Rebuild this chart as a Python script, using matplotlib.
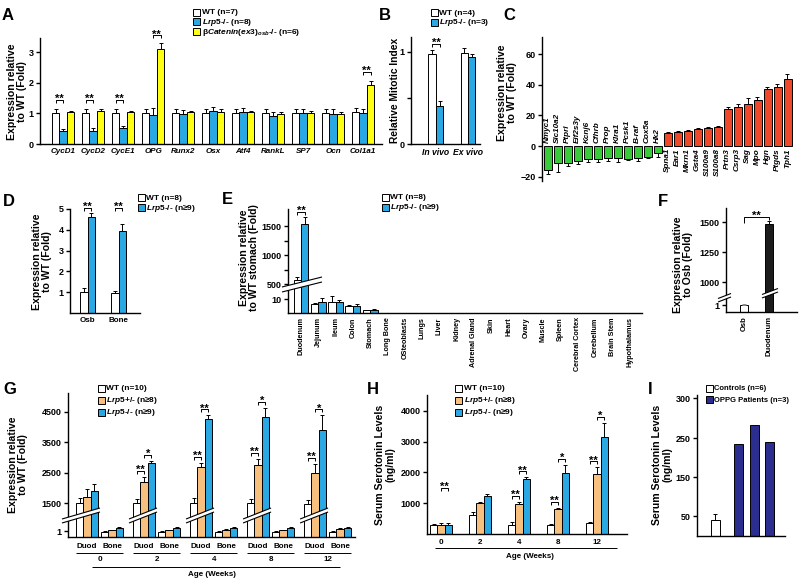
import numpy as np
import matplotlib
matplotlib.use('Agg')
import matplotlib.pyplot as plt
from matplotlib.patches import Rectangle, Polygon
from matplotlib.lines import Line2D

# ---------------- data ----------------
a_genes = ['CycD1', 'CycD2', 'CycE1', 'OPG', 'Runx2', 'Osx', 'Atf4', 'RankL', 'SP7', 'Ocn', 'Col1a1']
a_wt = [1.00, 1.00, 1.00, 1.00, 1.00, 1.00, 1.00, 1.00, 1.00, 1.00, 1.03]
a_wt_err = [0.15, 0.15, 0.15, 0.15, 0.15, 0.15, 0.15, 0.15, 0.15, 0.15, 0.13]
a_lrp5 = [0.43, 0.43, 0.52, 0.95, 0.97, 1.07, 1.05, 0.92, 1.02, 0.99, 1.02]
a_lrp5_err = [0.07, 0.09, 0.06, 0.21, 0.15, 0.13, 0.14, 0.14, 0.12, 0.14, 0.12]
a_bcat = [1.03, 1.07, 1.03, 3.10, 1.03, 1.06, 1.03, 0.97, 1.00, 0.97, 1.93]
a_bcat_err = [0.06, 0.08, 0.06, 0.19, 0.06, 0.07, 0.06, 0.06, 0.08, 0.06, 0.12]

b_cond = ['In vivo', 'Ex vivo']
b_wt = [0.98, 0.99]
b_wt_err = [0.04, 0.05]
b_lrp5 = [0.41, 0.95]
b_lrp5_err = [0.06, 0.03]

c_down_genes = ['Nmyc1', 'Slc10a2', 'Ptprl', 'Eif2s3y', 'Kcnj6', 'Cfhrb', 'Prop', 'Klra1',
                'Pcsk1', 'B-raf', 'Cox5a', 'Hk2']
c_down = [-15.4, -11.0, -11.0, -9.9, -8.4, -8.6, -8.0, -7.8, -8.4, -8.0, -7.0, -4.4]
c_down_err = [3.0, 6.0, 2.0, 2.0, 2.0, 1.5, 2.0, 2.5, 1.0, 1.5, 1.0, 2.5]
c_up_genes = ['Spna1', 'Ear1', 'Mkrn1', 'Gsta4', 'S100a9', 'S100a8', 'Prtn3', 'Csrp3', 'Sag',
              'Mpo', 'Hgn', 'Ptgds', 'Tph1']
c_up = [8.7, 9.1, 9.6, 10.9, 11.7, 12.4, 23.9, 25.7, 27.2, 30.0, 37.0, 38.6, 43.7]
c_up_err = [0.5, 0.5, 0.6, 0.6, 0.6, 0.6, 1.5, 1.5, 4.0, 2.0, 1.8, 1.8, 3.5]

d_tissue = ['Osb', 'Bone']
d_wt = [1.00, 0.97]
d_wt_err = [0.18, 0.07]
d_lrp5 = [4.63, 3.93]
d_lrp5_err = [0.17, 0.37]

e_tissue = ['Duodenum', 'Jejunum', 'Ileum', 'Colon', 'Stomach', 'Long Bone', 'OSteoblasts', 'Lungs',
            'Liver', 'Kidney', 'Adrenal Gland', 'Skin', 'Heart', 'Ovary', 'Muscle', 'Spleen',
            'Cerebral Cortex', 'Cerebellum', 'Brain Stem', 'Hypothalamus']
e_wt = [570, 6.4, 8.0, 5.0, 2.0, 0, 0, 0, 0, 0, 0, 0, 0, 0, 0, 0, 0, 0, 0, 0]
e_wt_err = [60, 0.5, 4.0, 0.8, 0.3, 0, 0, 0, 0, 0, 0, 0, 0, 0, 0, 0, 0, 0, 0, 0]
e_lrp5 = [1540, 8.0, 8.0, 5.0, 2.2, 0, 0, 0, 0, 0, 0, 0, 0, 0, 0, 0, 0, 0, 0, 0]
e_lrp5_err = [120, 2.5, 1.5, 1.5, 0.4, 0, 0, 0, 0, 0, 0, 0, 0, 0, 0, 0, 0, 0, 0, 0]

f_tissue = ['Osb', 'Duodenum']
f_val = [1.0, 1480]
f_err = [0.15, 30]

g_ages = [0, 2, 4, 8, 12]
g_duod_wt = [1510, 1500, 1500, 1510, 1480]
g_duod_wt_err = [140, 130, 150, 120, 110]
g_duod_het = [1700, 2190, 2680, 2750, 2500]
g_duod_het_err = [260, 160, 130, 200, 280]
g_duod_ko = [1890, 2800, 4250, 4320, 3880]
g_duod_ko_err = [230, 80, 130, 300, 500]
g_bone_wt = [0.9, 0.9, 0.9, 0.9, 0.9]
g_bone_wt_err = [0.08, 0.08, 0.08, 0.08, 0.08]
g_bone_het = [1.15, 1.15, 1.2, 1.15, 1.3]
g_bone_het_err = [0.1, 0.1, 0.1, 0.1, 0.25]
g_bone_ko = [1.45, 1.45, 1.5, 1.5, 1.5]
g_bone_ko_err = [0.2, 0.25, 0.15, 0.2, 0.25]

h_ages = [0, 2, 4, 8, 12]
h_wt = [290, 620, 290, 300, 360]
h_wt_err = [40, 100, 90, 30, 40]
h_het = [300, 1020, 980, 800, 1940]
h_het_err = [50, 30, 60, 60, 230]
h_ko = [300, 1240, 1790, 1980, 3150]
h_ko_err = [60, 60, 50, 260, 470]

i_ctrl = [40]
i_ctrl_err = [16]
i_pat = [236, 266, 241]

# ---------------- style ----------------
plt.rcParams.update({
    'font.family': ['Liberation Sans', 'DejaVu Sans'],
    'font.weight': 'bold',
    'font.size': 7,
    'mathtext.fontset': 'custom',
    'mathtext.rm': 'Liberation Sans:bold',
    'mathtext.it': 'Liberation Sans:italic:bold',
    'mathtext.bf': 'Liberation Sans:bold',
    'axes.linewidth': 1.0,
})
BLUE = '#2AA8E4'
ORANGE = '#F8C07E'
YELLOW = '#FFFF14'
GREEN = '#3ACB3A'
RED = '#F0482A'
NAVY = '#2B2E8E'
BLACK = '#1C1C1C'

W, H = 800, 582
fig = plt.figure(figsize=(8, 5.82), dpi=100)


def fx(x):
    return x / W


def fy(y):
    return 1 - y / H


def add_ax(l, t, r, b):
    ax = fig.add_axes([l / W, 1 - b / H, (r - l) / W, (b - t) / H])
    ax.spines['top'].set_visible(False)
    ax.spines['right'].set_visible(False)
    ax.tick_params(axis='y', labelsize=6.5, length=3, width=1, pad=1.5)
    ax.tick_params(axis='x', length=0, pad=3)
    ax.patch.set_alpha(0)
    return ax


def ftext(x, y, s, **kw):
    return fig.text(fx(x), fy(y), s, **kw)


def to_px(ax, x, y):
    X, Y = ax.transData.transform((x, y))
    return X, H - Y


def pline(xs, ys, lw=0.8, color='k'):
    fig.add_artist(Line2D([fx(x) for x in xs], [fy(y) for y in ys], transform=fig.transFigure,
                          lw=lw, color=color, zorder=6, solid_capstyle='butt'))


def bars(ax, x, h, err, color, width, down=False, ecolor='k'):
    x = np.asarray(x, float)
    h = np.asarray(h, float)
    er = np.asarray(err, float)
    ax.bar(x, h, width, color=color, edgecolor='k', linewidth=0.7, zorder=2)
    m = er > 0
    z = np.zeros(m.sum())
    yerr = [er[m], z] if down else [z, er[m]]
    ax.errorbar(x[m], h[m], yerr=yerr, fmt='none', ecolor=ecolor, elinewidth=0.7,
                capsize=1.7, capthick=0.7, zorder=3)


def stars(x, ybr, txt, fs=8):
    ftext(x, ybr + 2.2, txt, ha='center', va='baseline', fontsize=fs)


def bracket(ax, x1, x2, ydata, txt, pad=5, tick=3, fs=8, ypx=None):
    X1, Y = to_px(ax, x1, ydata)
    X2, _ = to_px(ax, x2, ydata)
    Yb = Y - pad if ypx is None else ypx
    pline([X1, X1, X2, X2], [Yb + tick, Yb, Yb, Yb + tick], lw=0.7)
    stars((X1 + X2) / 2, Yb, txt, fs)


def legend(x, ys, labels, colors, fs=6.0):
    for y, lab, c in zip(ys, labels, colors):
        fig.add_artist(Rectangle((fx(x), fy(y + 3.5)), 7 / W, 7 / H, transform=fig.transFigure,
                                 facecolor=c, edgecolor='k', lw=0.7, zorder=6))
        ftext(x + 8.5, y + 2.4, lab, ha='left', va='baseline', fontsize=fs)


def slash(x1, x2, y1, y2, gap=4, lw=0.8):
    poly = Polygon([(fx(x1), fy(y1)), (fx(x2), fy(y2)), (fx(x2), fy(y2 - gap)), (fx(x1), fy(y1 - gap))],
                   closed=True, transform=fig.transFigure, facecolor='white', edgecolor='none', zorder=5)
    fig.add_artist(poly)
    pline([x1, x2], [y1, y2], lw=lw)
    pline([x1, x2], [y1 - gap, y2 - gap], lw=lw)


def piecewise(vs, ds):
    vs = np.asarray(vs, float)
    ds = np.asarray(ds, float)
    return (lambda v: np.interp(v, vs, ds)), (lambda d: np.interp(d, ds, vs))


def ylab(x, y, s, fs=7.6):
    ftext(x, y, s, rotation=90, ha='center', va='center', multialignment='center',
          fontsize=fs, linespacing=1.05)


def letter(x, y, s):
    ftext(x, y, s, ha='left', va='center', fontsize=12)


LRP = r'$Lrp5$-/-'
HET = r'$Lrp5$+/-'

# ---------------- Panel A ----------------
axA = add_ax(40, 38, 382, 144)
xa = np.arange(len(a_genes))
bars(axA, xa - 0.25, a_wt, a_wt_err, 'white', 0.25)
bars(axA, xa, a_lrp5, a_lrp5_err, BLUE, 0.25)
bars(axA, xa + 0.25, a_bcat, a_bcat_err, YELLOW, 0.25)
axA.set_xlim(-0.77, 10.63)
axA.set_ylim(0, 3.46)
axA.set_yticks([0, 1, 2, 3])
axA.set_xticks(xa)
axA.set_xticklabels(a_genes, style='italic', fontsize=5.8)
for i in [0, 1, 2]:
    bracket(axA, i - 0.25, i, 1.45, '**', pad=0)
bracket(axA, 3, 3.25, 3.55, '**', pad=0)
bracket(axA, 10, 10.25, 2.35, '**', pad=0)
letter(2, 15, 'A')
ylab(17, 92, 'Expression relative\nto WT (Fold)')
legend(193, [12, 21.7, 31.2], ['WT (n=7)', LRP + ' (n=8)', r'β$Catenin(ex3)_{osb}$-/- (n=6)'],
       ['white', BLUE, YELLOW])

# ---------------- Panel B ----------------
axB = add_ax(411, 37, 480, 144)
xb = np.arange(2)
bars(axB, xb - 0.117, b_wt, b_wt_err, 'white', 0.234)
bars(axB, xb + 0.117, b_lrp5, b_lrp5_err, BLUE, 0.234)
axB.set_xlim(-0.78, 1.375)
axB.set_ylim(0, 1.163)
axB.set_yticks([0, 0.5, 1])
axB.set_yticklabels(['0', '', '1'])
axB.set_xticks(xb)
axB.set_xticklabels(b_cond, style='italic', fontsize=6.2)
bracket(axB, -0.117, 0.117, 1.09, '**', pad=0)
letter(379, 15, 'B')
ylab(395, 90, 'Relative Mitotic Index', fs=7.4)
legend(431, [12.3, 22], ['WT (n=4)', LRP + ' (n=3)'], ['white', BLUE])

# ---------------- Panel C ----------------
axC = add_ax(542, 37, 795, 181)
xd = np.arange(len(c_down_genes))
xu = np.arange(len(c_up_genes)) + len(c_down_genes)
bars(axC, xd, c_down, c_down_err, GREEN, 0.8, down=True)
bars(axC, xu, c_up, c_up_err, RED, 0.8)
axC.set_xlim(-0.55, 24.75)
axC.set_ylim(-22.8, 71.1)
axC.spines['bottom'].set_visible(False)
axC.set_xticks([])
axC.set_yticks([-20, 0, 20, 40, 60])
for xi, g in zip(xd, c_down_genes):
    axC.annotate(g, (xi, 0), xytext=(0, 2.2), textcoords='offset points', rotation=90,
                 ha='center', va='bottom', fontsize=5.9, style='italic')
for xi, g in zip(xu, c_up_genes):
    axC.annotate(g, (xi, 0), xytext=(0, -1.5), textcoords='offset points', rotation=90,
                 ha='center', va='top', fontsize=5.9, style='italic')
letter(503, 15, 'C')
ylab(507, 93, 'Expression relative\nto WT (Fold)')

# ---------------- Panel D ----------------
axD = add_ax(70, 209, 140, 313)
xdd = np.arange(2)
bars(axD, xdd - 0.117, d_wt, d_wt_err, 'white', 0.234)
bars(axD, xdd + 0.117, d_lrp5, d_lrp5_err, BLUE, 0.234)
axD.set_xlim(-0.5625, 1.6875)
axD.set_ylim(0, 5)
axD.set_yticks([1, 2, 3, 4, 5])
axD.set_xticks(xdd)
axD.set_xticklabels(d_tissue, fontsize=5.8)
for i in [0, 1]:
    bracket(axD, i - 0.117, i + 0.117, 5.05, '**', pad=0)
letter(3, 202, 'D')
ylab(42, 262, 'Expression relative\nto WT (Fold)')
legend(138, [197.5, 207.5], ['WT (n=8)', LRP + ' (n≥9)'], ['white', BLUE])

# ---------------- Panel E ----------------
axE = add_ax(288, 209, 642, 313)
fwdE, invE = piecewise([-1000, 14, 480, 1e5], [-1400, 19.6, 27.8, 27.8 + (1e5 - 480) * 0.058])
axE.set_yscale('function', functions=(fwdE, invE))
xe = np.arange(len(e_tissue))
bars(axE, xe - 0.215, e_wt, e_wt_err, 'white', 0.43)
bars(axE, xe + 0.215, e_lrp5, e_lrp5_err, BLUE, 0.43)
axE.set_xlim(-0.75, 19.71)
axE.set_ylim(0, 1794)
axE.set_yticks([10, 500, 750, 1000, 1250, 1500])
axE.set_yticklabels(['10', '500', '', '1000', '', '1500'])
axE.minorticks_off()
axE.set_xticks(xe)
axE.set_xticklabels(e_tissue, rotation=90, fontsize=5.2, va='top')
bracket(axE, -0.215, 0.215, 1540, '**', ypx=212)
slash(282, 322, 292, 282, gap=5)
letter(222, 200, 'E')
ylab(249, 258, 'Expression relative\nto WT stomach (Fold)')
legend(382, [197, 207], ['WT (n=8)', LRP + ' (n≥9)'], ['white', BLUE])

# ---------------- Panel F ----------------
axF = add_ax(726, 208, 797, 312)
fwdF, invF = piecewise([-10, 1.6, 1000, 1e5], [-70, 11.2, 30, 30 + 99000 * 0.12])
axF.set_yscale('function', functions=(fwdF, invF))
xf = np.arange(2)
axF.bar(xf, f_val, 0.34, color=['white', BLACK], edgecolor='k', linewidth=0.7, zorder=2)
axF.errorbar(xf[:1], f_val[:1], yerr=[[0], f_err[:1]], fmt='none', ecolor='#888888',
             elinewidth=0.7, capsize=1.7, capthick=0.7, zorder=3)
axF.errorbar(xf[1:], f_val[1:], yerr=[[0], f_err[1:]], fmt='none', ecolor='k',
             elinewidth=0.7, capsize=1.7, capthick=0.7, zorder=3)
axF.set_xlim(-0.72, 2.12)
axF.set_ylim(0, 1617)
axF.set_yticks([1, 1000, 1250, 1500])
axF.minorticks_off()
axF.set_xticks(xf)
axF.set_xticklabels(f_tissue, rotation=90, fontsize=5.5, va='top')
X1, _ = to_px(axF, 0, 0)
X2, Ytop = to_px(axF, 1, 1510)
pline([X1, X1, X2, X2], [223, 217, 217, Ytop - 1], lw=0.7)
stars((X1 + X2) / 2, 217, '**')
slash(718, 731, 302, 297, gap=3.5)
slash(762, 778, 298, 292, gap=3.5)
letter(658, 202, 'F')
ylab(683, 265, 'Expression relative\nto Osb (Fold)')

# ---------------- Panel G ----------------
axG = add_ax(68, 393, 355, 537)
fwdG, invG = piecewise([-100, 2, 1400, 1e6], [-600, 12, 30.95, 30.95 + (1e6 - 1400) * 0.0305])
axG.set_yscale('function', functions=(fwdG, invG))
xg = np.arange(len(g_ages)).astype(float)
wg = 0.13
bars(axG, xg - wg, g_duod_wt, g_duod_wt_err, 'white', wg)
bars(axG, xg, g_duod_het, g_duod_het_err, ORANGE, wg)
bars(axG, xg + wg, g_duod_ko, g_duod_ko_err, BLUE, wg)
bars(axG, xg + 0.44 - wg, g_bone_wt, g_bone_wt_err, 'white', wg)
bars(axG, xg + 0.44, g_bone_het, g_bone_het_err, ORANGE, wg)
bars(axG, xg + 0.44 + wg, g_bone_ko, g_bone_ko_err, BLUE, wg)
axG.set_xlim(-0.333, 4.70)
axG.set_ylim(0, 5107)
axG.set_yticks([1, 1500, 2500, 3500, 4500])
axG.minorticks_off()
axG.set_xticks([])
g_sig = [None, ('**', '*'), ('**', '**'), ('**', '*'), ('**', '*')]
for i, s in enumerate(g_sig):
    if s is None:
        continue
    bracket(axG, i - wg, i, g_duod_het[i] + g_duod_het_err[i], s[0], pad=6)
    bracket(axG, i, i + wg, g_duod_ko[i] + g_duod_ko_err[i], s[1], pad=6)
for i, age in enumerate(g_ages):
    Xd, _ = to_px(axG, i, 0)
    Xb, _ = to_px(axG, i + 0.44, 0)
    slash(Xd - 15 if i else 62, Xd + 13, 523, 512, gap=4)
    ftext(Xd, 547, 'Duod', ha='center', va='center', fontsize=5.8)
    ftext(Xb, 547, 'Bone', ha='center', va='center', fontsize=5.8)
    pline([Xd - 11, Xb + 11], [552.5, 552.5], lw=0.7)
    ftext((Xd + Xb) / 2, 559.5, str(age), ha='center', va='center', fontsize=5.8)
pline([92, 340], [567, 567], lw=0.7)
ftext(212, 574, 'Age (Weeks)', ha='center', va='center', fontsize=5.8)
letter(3, 390, 'G')
ylab(18, 465, 'Expression relative\nto WT (Fold)')
legend(98, [388, 400, 412], ['WT (n=10)', HET + ' (n≥8)', LRP + ' (n≥9)'], ['white', ORANGE, BLUE])

# ---------------- Panel H ----------------
axH = add_ax(427, 395, 627, 534)
xh = np.arange(len(h_ages)).astype(float)
wh = 0.19
bars(axH, xh - wh, h_wt, h_wt_err, 'white', wh)
bars(axH, xh, h_het, h_het_err, ORANGE, wh)
bars(axH, xh + wh, h_ko, h_ko_err, BLUE, wh)
axH.set_xlim(-0.36, 4.77)
axH.set_ylim(0, 4520)
axH.set_yticks([1000, 2000, 3000, 4000])
axH.set_xticks([])
bracket(axH, 0, wh, h_ko[1] + h_ko_err[1], '**', pad=6)
for i in [2, 3, 4]:
    bracket(axH, i - wh, i, max(h_het[i] + h_het_err[i], h_wt[i] + h_wt_err[i]), '**', pad=6)
    bracket(axH, i, i + wh, h_ko[i] + h_ko_err[i], '**' if i == 2 else '*', pad=6)
for i, age in enumerate(h_ages):
    Xc, _ = to_px(axH, i, 0)
    ftext(Xc, 542, str(age), ha='center', va='center', fontsize=5.8)
pline([435, 617], [548, 548], lw=0.7)
ftext(530, 557, 'Age (Weeks)', ha='center', va='center', fontsize=5.8)
letter(367, 390, 'H')
ylab(385, 465, 'Serum Serotonin Levels\n(ng/ml)')
legend(455, [388, 400, 412], ['WT (n=10)', HET + ' (n≥8)', LRP + ' (n≥9)'], ['white', ORANGE, BLUE])

# ---------------- Panel I ----------------
axI = add_ax(697, 395, 785, 536)
fwdI, invI = piecewise([-100, 250, 1e4], [-39, 97.5, 97.5 + 9750 * 0.8])
axI.set_yscale('function', functions=(fwdI, invI))
bars(axI, [0], i_ctrl, i_ctrl_err, 'white', 0.58)
axI.bar(np.arange(len(i_pat)) + 1.5, i_pat, 0.58, color=NAVY, edgecolor='k', linewidth=0.7, zorder=2)
axI.set_xlim(-1.19, 4.48)
axI.set_ylim(0, 304)
axI.set_yticks([50, 150, 250, 300])
axI.minorticks_off()
axI.set_xticks([])
letter(648, 390, 'I')
ylab(662, 465, 'Serum Serotonin Levels\n(ng/ml)')
legend(706, [388, 399.5], ['Controls (n=6)', 'OPPG Patients (n=3)'], ['white', NAVY], fs=5.5)

fig.savefig('out.png', dpi=100)
